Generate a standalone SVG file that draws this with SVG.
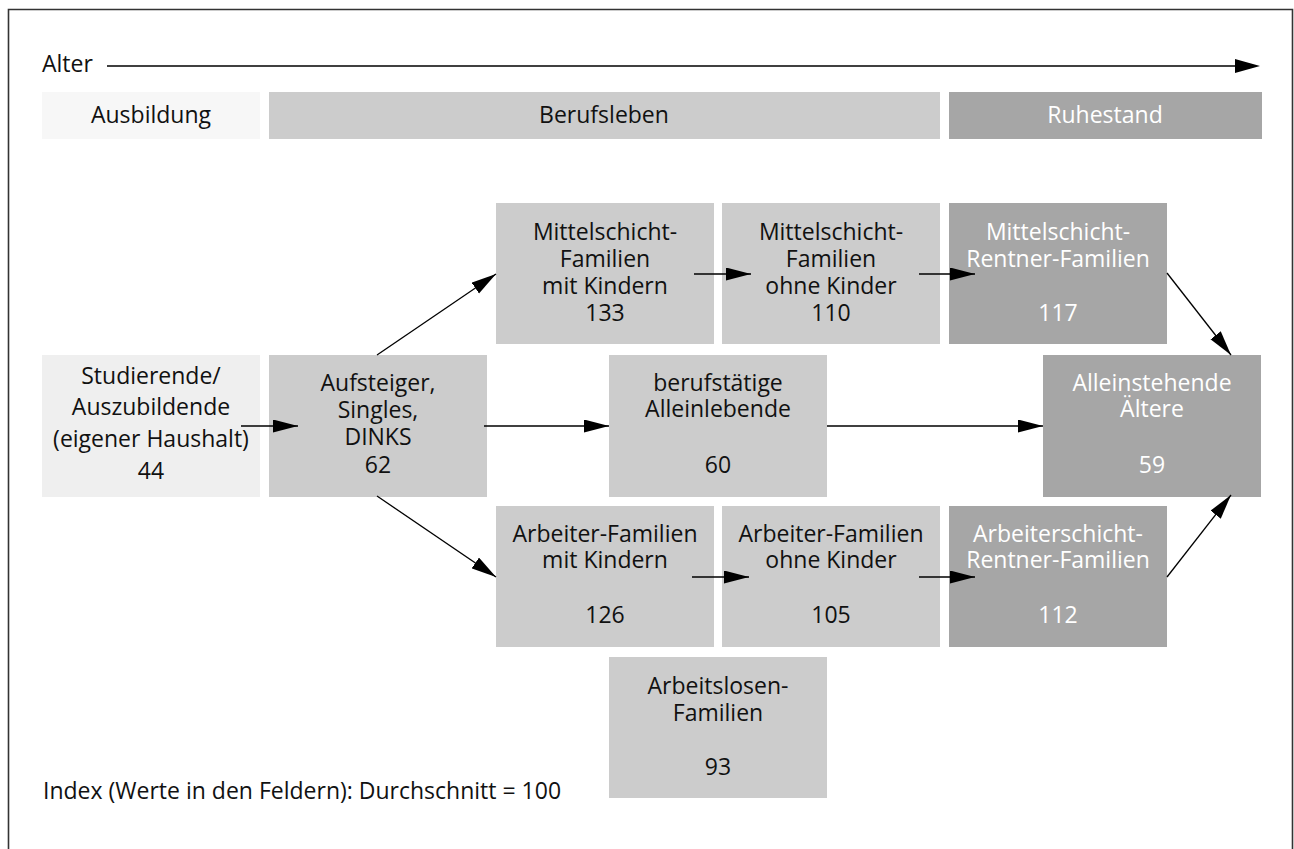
<svg xmlns="http://www.w3.org/2000/svg" width="1294" height="849" viewBox="0 0 1294 849">
  <style>
    text { font-family: "Open Sans", "Noto Sans", "DejaVu Sans", sans-serif; font-size: 23px; fill: #111; }
    .c { text-anchor: middle; }
    .w { fill: #ffffff; }
    .light { fill: #efefef; }
    .pale { fill: #f7f7f7; }
    .mid { fill: #cccccc; }
    .dark { fill: #a6a6a6; }
    .edge { stroke: #000; stroke-width: 1.3; fill: none; marker-end: url(#head); }
    .frame { stroke: #333; stroke-width: 1.6; fill: none; }
  </style>
  <defs>
    <marker id="head" markerUnits="userSpaceOnUse" markerWidth="26" markerHeight="14" refX="25" refY="6.5" orient="auto">
      <path d="M0,0 L25,6.5 L0,13 Z" fill="#000"/>
    </marker>
  </defs>

  <rect width="1294" height="849" fill="#ffffff"/>

  <!-- outer frame, open at the bottom -->
  <path class="frame" d="M8.5,849 V9.5 H1292.5 V849"/>

  <!-- age axis -->
  <g id="axis">
    <text x="42" y="72">Alter</text>
    <line x1="107" y1="66" x2="1236" y2="66" stroke="#000" stroke-width="1.4"/>
    <path d="M1235,59 L1260,66 L1235,73 Z" fill="#000"/>
  </g>

  <!-- life phases -->
  <g id="phase-ausbildung">
    <rect class="pale" x="42" y="92" width="218" height="47"/>
    <text class="c" x="151" y="123">Ausbildung</text>
  </g>
  <g id="phase-berufsleben">
    <rect class="mid" x="269" y="92" width="671" height="47"/>
    <text class="c" x="604" y="123">Berufsleben</text>
  </g>
  <g id="phase-ruhestand">
    <rect class="dark" x="949" y="92" width="313" height="47"/>
    <text class="c w" x="1105" y="123">Ruhestand</text>
  </g>

  <!-- nodes -->
  <g id="studierende">
    <rect class="light" x="42" y="355" width="218" height="142"/>
    <text class="c" x="151" y="384">Studierende/</text>
    <text class="c" x="151" y="415">Auszubildende</text>
    <text class="c" x="151" y="447">(eigener Haushalt)</text>
    <text class="c" x="151" y="479">44</text>
  </g>

  <g id="aufsteiger">
    <rect class="mid" x="269" y="355" width="218" height="142"/>
    <text class="c" x="378" y="391">Aufsteiger,</text>
    <text class="c" x="378" y="418">Singles,</text>
    <text class="c" x="378" y="445">DINKS</text>
    <text class="c" x="378" y="473">62</text>
  </g>

  <g id="mittelschicht-mit-kindern">
    <rect class="mid" x="496" y="203" width="218" height="141"/>
    <text class="c" x="605" y="240">Mittelschicht-</text>
    <text class="c" x="605" y="267">Familien</text>
    <text class="c" x="605" y="294">mit Kindern</text>
    <text class="c" x="605" y="321">133</text>
  </g>

  <g id="mittelschicht-ohne-kinder">
    <rect class="mid" x="722" y="203" width="218" height="141"/>
    <text class="c" x="831" y="240">Mittelschicht-</text>
    <text class="c" x="831" y="267">Familien</text>
    <text class="c" x="831" y="294">ohne Kinder</text>
    <text class="c" x="831" y="321">110</text>
  </g>

  <g id="mittelschicht-rentner">
    <rect class="dark" x="949" y="203" width="218" height="141"/>
    <text class="c w" x="1058" y="240">Mittelschicht-</text>
    <text class="c w" x="1058" y="267">Rentner-Familien</text>
    <text class="c w" x="1058" y="321">117</text>
  </g>

  <g id="berufstaetige-alleinlebende">
    <rect class="mid" x="609" y="355" width="218" height="142"/>
    <text class="c" x="718" y="391">berufstätige</text>
    <text class="c" x="718" y="417">Alleinlebende</text>
    <text class="c" x="718" y="473">60</text>
  </g>

  <g id="alleinstehende-aeltere">
    <rect class="dark" x="1043" y="355" width="218" height="142"/>
    <text class="c w" x="1152" y="391">Alleinstehende</text>
    <text class="c w" x="1152" y="417">Ältere</text>
    <text class="c w" x="1152" y="473">59</text>
  </g>

  <g id="arbeiter-mit-kindern">
    <rect class="mid" x="496" y="506" width="218" height="141"/>
    <text class="c" x="605" y="542">Arbeiter-Familien</text>
    <text class="c" x="605" y="568">mit Kindern</text>
    <text class="c" x="605" y="623">126</text>
  </g>

  <g id="arbeiter-ohne-kinder">
    <rect class="mid" x="722" y="506" width="218" height="141"/>
    <text class="c" x="831" y="542">Arbeiter-Familien</text>
    <text class="c" x="831" y="568">ohne Kinder</text>
    <text class="c" x="831" y="623">105</text>
  </g>

  <g id="arbeiterschicht-rentner">
    <rect class="dark" x="949" y="506" width="218" height="141"/>
    <text class="c w" x="1058" y="542">Arbeiterschicht-</text>
    <text class="c w" x="1058" y="568">Rentner-Familien</text>
    <text class="c w" x="1058" y="623">112</text>
  </g>

  <g id="arbeitslosen-familien">
    <rect class="mid" x="609" y="657" width="218" height="141"/>
    <text class="c" x="718" y="694">Arbeitslosen-</text>
    <text class="c" x="718" y="721">Familien</text>
    <text class="c" x="718" y="775">93</text>
  </g>

  <!-- connectors, drawn over the boxes they enter -->
  <g id="connectors">
    <line class="edge" x1="241" y1="426" x2="298" y2="426"/>
    <line class="edge" x1="377" y1="355" x2="496" y2="274"/>
    <line class="edge" x1="377" y1="496" x2="496" y2="577"/>
    <line class="edge" x1="484" y1="426" x2="609" y2="426"/>
    <line class="edge" x1="827" y1="426" x2="1043" y2="426"/>
    <line class="edge" x1="694" y1="274" x2="751" y2="274"/>
    <line class="edge" x1="919" y1="274" x2="975" y2="274"/>
    <line class="edge" x1="692" y1="577" x2="749" y2="577"/>
    <line class="edge" x1="919" y1="577" x2="975" y2="577"/>
    <line class="edge" x1="1167" y1="273" x2="1231" y2="355"/>
    <line class="edge" x1="1167" y1="577" x2="1231" y2="495"/>
  </g>

  <!-- legend -->
  <text x="43" y="799">Index (Werte in den Feldern): Durchschnitt = 100</text>
</svg>
